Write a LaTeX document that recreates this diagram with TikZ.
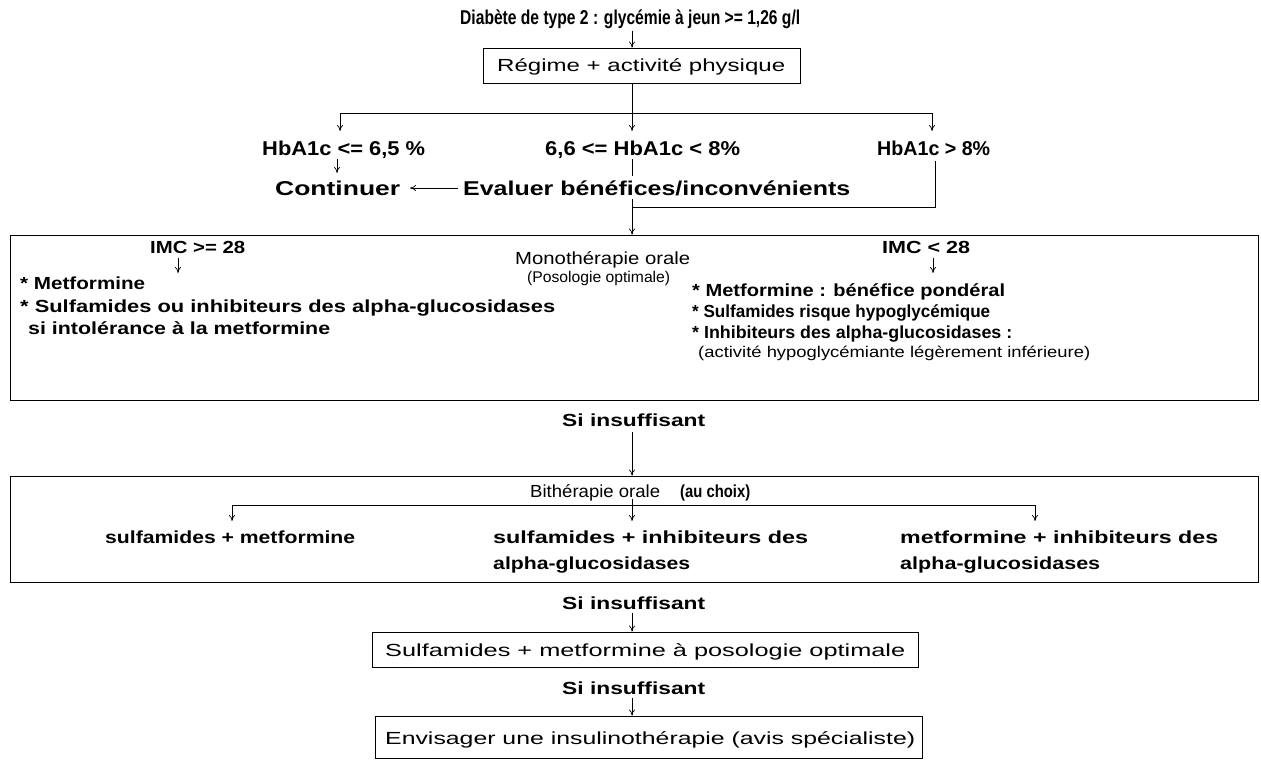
\documentclass[tikz,border=0pt]{standalone}
\usepackage{fontspec}
\setmainfont{Liberation Sans}
\usepackage{graphicx}
\usetikzlibrary{arrows.meta}
\newcommand\fitw[2]{\resizebox{#1pt}{\height}{#2}}
\begin{document}
\begin{tikzpicture}[x=1pt,y=-1pt,
  txt/.style={inner sep=0pt, anchor=base west, font=\fontsize{17.5}{20}\selectfont},
  btxt/.style={inner sep=0pt, anchor=base west, font=\fontsize{17.5}{20}\selectfont\bfseries},
  htxt/.style={inner sep=0pt, anchor=base west, font=\fontsize{20}{22}\selectfont\bfseries},
  stxt/.style={inner sep=0pt, anchor=base west, font=\fontsize{15.5}{18}\selectfont},
  arr/.style={-{To[length=6pt,width=6pt]}, line width=0.7pt},
  ln/.style={line width=0.7pt},
  boxr/.style={draw, line width=0.8pt, inner sep=0pt}]
\useasboundingbox (0,0) rectangle (1261,760);
\fill[white] (0,0) rectangle (1261,760);

% boxes
\node[boxr, minimum width=317pt, minimum height=35pt] (reg) at (641.5,65.5) {};
\node[boxr, minimum width=1248pt, minimum height=165pt] (mono) at (634,317.5) {};
\node[boxr, minimum width=1248pt, minimum height=106pt] (bi) at (634,529) {};
\node[boxr, minimum width=546pt, minimum height=35pt] (sulf) at (645,649.5) {};
\node[boxr, minimum width=547pt, minimum height=42pt] (ins) at (648.5,737) {};

% texts
\node[htxt] (title) at (460,25) {\fitw{340}{Diabète de type 2 : glycémie à jeun >= 1,26 g/l}};
\node[txt] (regt) at (497,72) {\fitw{288}{Régime + activité physique}};
\node[htxt] (h1) at (262,155) {\fitw{163}{HbA1c <= 6,5 \%}};
\node[htxt] (h2) at (545,155) {\fitw{195}{6,6 <= HbA1c < 8\%}};
\node[htxt] (h3) at (877,155) {\fitw{113}{HbA1c > 8\%}};
\node[htxt] (cont) at (275,195) {\fitw{125}{Continuer}};
\node[htxt] (eval) at (463,195) {\fitw{387}{Evaluer bénéfices/inconvénients}};

\node[btxt] (imc1) at (150,253) {\fitw{95}{IMC >= 28}};
\node[txt] (mono1) at (515,264) {\fitw{175}{Monothérapie orale}};
\node[stxt] (mono2) at (527,282) {\fitw{143}{(Posologie optimale)}};
\node[btxt] (imc2) at (882,253) {\fitw{88}{IMC < 28}};
\node[btxt] (l1) at (20,289) {\fitw{125}{* Metformine}};
\node[btxt] (l2) at (20,312) {\fitw{535}{* Sulfamides ou inhibiteurs des alpha-glucosidases}};
\node[btxt] (l3) at (28,334) {\fitw{302}{si intolérance à la metformine}};
\node[btxt] (r1) at (692,296) {\fitw{313}{* Metformine : bénéfice pondéral}};
\node[btxt] (r2) at (692,317) {\fitw{298}{* Sulfamides risque hypoglycémique}};
\node[btxt] (r3) at (692,338) {\fitw{320}{* Inhibiteurs des alpha-glucosidases :}};
\node[stxt] (r4) at (698,357) {\fitw{392}{(activité hypoglycémiante légèrement inférieure)}};

\node[btxt] (si1) at (562,426) {\fitw{143}{Si insuffisant}};
\node[txt] (bit) at (530,497) {\fitw{130}{Bithérapie orale}};
\node[btxt] (bic) at (680,497) {\fitw{70}{(au choix)}};
\node[btxt] (b1) at (105,543) {\fitw{250}{sulfamides + metformine}};
\node[btxt] (b2a) at (493,543) {\fitw{315}{sulfamides + inhibiteurs des}};
\node[btxt] (b2b) at (493,569) {\fitw{197}{alpha-glucosidases}};
\node[btxt] (b3a) at (900,543) {\fitw{318}{metformine + inhibiteurs des}};
\node[btxt] (b3b) at (900,569) {\fitw{200}{alpha-glucosidases}};
\node[btxt] (si2) at (562,609) {\fitw{143}{Si insuffisant}};
\node[txt] (sulft) at (385,656) {\fitw{520}{Sulfamides + metformine à posologie optimale}};
\node[btxt] (si3) at (562,694) {\fitw{143}{Si insuffisant}};
\node[txt] (inst) at (385,744) {\fitw{530}{Envisager une insulinothérapie (avis spécialiste)}};

% coordinates for junctions
\coordinate (ja) at (632,113);
\coordinate (jl) at (340,113);
\coordinate (jr) at (932,113);
\coordinate (jb) at (632,207);
\coordinate (jc) at (935,207);
\coordinate (jd) at (632,505);
\coordinate (jdl) at (232,505);
\coordinate (jdr) at (1035,505);

% connectors
\draw[arr] (632,31) -- (reg.north -| ja);
\draw[ln] (reg.south -| ja) -- (ja);
\draw[ln] (jl) -- (jr);
\draw[arr] (jl) -- (340,131);
\draw[arr] (ja) -- (632,131);
\draw[arr] (jr) -- (932,131);
\draw[arr] (337,159) -- (337,173);
\draw[ln] (632,159) -- (632,176);
\draw[arr] (458,188) -- (410,188);
\draw[ln] (935,161) -- (jc) -- (jb);
\draw[arr] (632,199) -- (mono.north -| jb);
\draw[arr] (178,258) -- (178,273);
\draw[arr] (933,258) -- (933,273);
\draw[arr] (632,432) -- (bi.north -| jd);
\draw[arr] (632,499) -- (632,521);
\draw[ln] (jdl) -- (jdr);
\draw[arr] (jdl) -- (232,521);
\draw[arr] (jdr) -- (1035,521);
\draw[arr] (632,613) -- (sulf.north -| jd);
\draw[arr] (632,698) -- (ins.north -| jd);
\end{tikzpicture}
\end{document}
